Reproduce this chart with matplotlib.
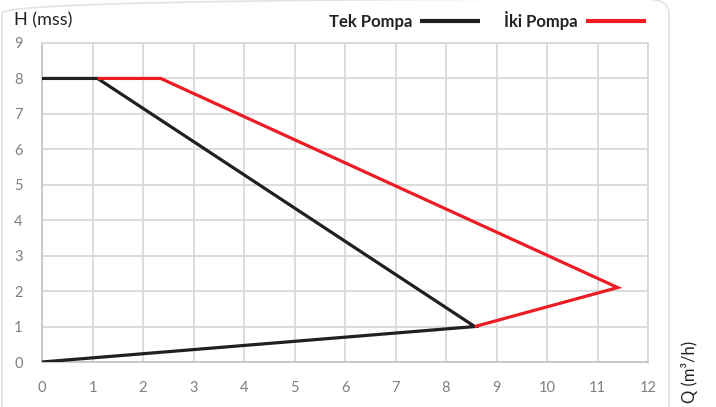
import matplotlib
matplotlib.use("Agg")
import matplotlib.pyplot as plt
from matplotlib.patches import FancyBboxPatch

# Data
tek_q = [0.0, 1.1, 8.57, 0.0]
tek_h = [8.0, 8.0, 1.0, 0.0]
iki_q = [1.1, 2.35, 11.4, 8.57]
iki_h = [8.0, 8.0, 2.1, 1.0]

x_ticks = list(range(0, 13))
y_ticks = list(range(0, 10))

black = "#231f20"
red = "#ed1c24"
grid_col = "#d9d9d9"
tick_col = "#7f7f7f"

fig = plt.figure(figsize=(7.16, 4.07), dpi=100)
fig.patch.set_facecolor("white")

# card border behind chart (top edge sits just above the image)
card = FancyBboxPatch((2 / 716, -0.1), 667 / 716, 1.1 + 1 / 407,
                      boxstyle="round,pad=0,rounding_size=0.035",
                      transform=fig.transFigure, facecolor="none",
                      edgecolor="#e3e3e3", linewidth=1.2, zorder=-1)
fig.patches.append(card)

ax = fig.add_axes([42 / 716, 45 / 407, 606 / 716, 319 / 407])
ax.set_facecolor("none")

ax.plot(tek_q, tek_h, color=black, linewidth=2.3, solid_capstyle="butt",
        solid_joinstyle="miter", label="Tek Pompa", zorder=3)
ax.plot(iki_q, iki_h, color=red, linewidth=2.3, solid_capstyle="butt",
        solid_joinstyle="miter", label="İki Pompa", zorder=3)

ax.set_xlim(0, 12)
ax.set_ylim(0, 9)
ax.set_xticks(x_ticks)
ax.set_yticks(y_ticks)
ax.grid(True, color=grid_col, linewidth=1.3)
ax.set_axisbelow(True)
for s in ["top", "right"]:
    ax.spines[s].set_color(grid_col)
    ax.spines[s].set_linewidth(1.3)
for s in ["left", "bottom"]:
    ax.spines[s].set_color("#c6c6c6")
    ax.spines[s].set_linewidth(1.3)
ax.tick_params(length=0, labelsize=10.5, labelcolor=tick_col, pad=14)
ax.tick_params(axis="y", pad=14)
for lab in ax.get_xticklabels() + ax.get_yticklabels():
    lab.set_family(["Lato", "DejaVu Sans"])

fig.text(14 / 716, 1 - 20 / 407, "H (mss)", fontsize=13, color="#222222",
         family=["Lato", "DejaVu Sans"], va="center", ha="left")
fig.text(690 / 716, 1 - 372 / 407, "Q (m³/h)", fontsize=12, color="#222222",
         family=["Lato", "DejaVu Sans"], va="center", ha="center", rotation=90)

leg = ax.legend(loc="lower right", bbox_to_anchor=(1.01, 1.015), ncol=2,
                frameon=False, markerfirst=False, handlelength=3.6,
                handletextpad=0.5, columnspacing=1.4, borderaxespad=0.2,
                borderpad=0.3,
                prop={"family": ["Lato", "DejaVu Sans"], "size": 12,
                      "weight": "bold"})
for t in leg.get_texts():
    t.set_color("#222222")
for h in leg.legend_handles:
    h.set_linewidth(3)

fig.savefig("out.png", dpi=100)
